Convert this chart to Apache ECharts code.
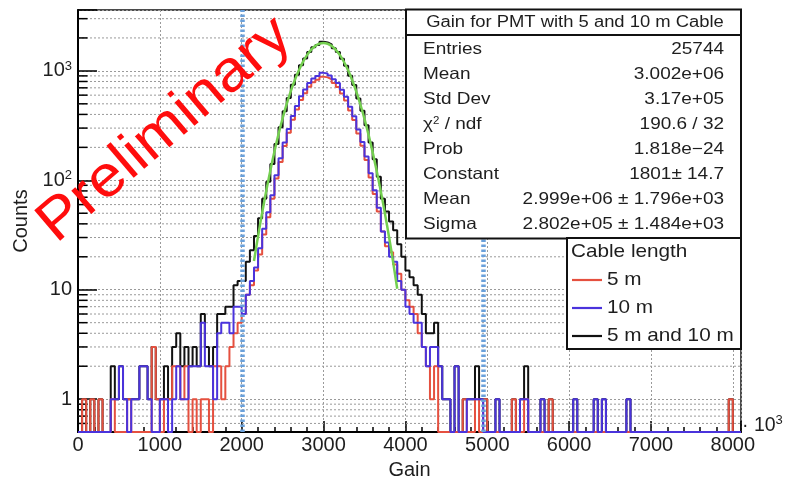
<!DOCTYPE html>
<html><head><meta charset="utf-8">
<script src="https://cdn.jsdelivr.net/npm/echarts@6/dist/echarts.min.js"></script>
<style>html,body{margin:0;padding:0;background:#fff}#c{width:790px;height:485px}</style>
</head><body><div id="c"></div>
<script>
// ---- data ----
const binStart = 0;
const binWidth = 50;          // Gain units (x10^3)
const xMin = 0, xMax = 8100, xInterval = 1000;
const yMin = 0.5, yMax = 3600;

// counts per bin, bins of 50 starting at 0
const counts5m = [
 0,1,0,1,0,1,0,0,1,0,
 0,0,1,0,0,0,0,0,3,1,
 0,1,1,2,2,1,2,0,1,0,
 1,1,0,2,2,1,2,3,4,5,
 6,9,11,15,21,32,46,68,104,147,
 206,272,358,443,541,624,716,789,830,886,
 872,838,775,714,622,535,434,356,268,207,
 153,106,75,52,34,25,22,17,14,10,
 8,7,6,4,3,2,1,2,0,0,
 0,0,0,0,1,0,0,1,0,1,
 0,0,0,0,0,0,1,0,0,1,
 0,0,0,0,0,1,0,0,0,0,
 0,0,0,0,0,0,0,0,0,0,
 0,0,0,0,0,0,0,0,0,0,
 0,0,0,0,0,0,0,0,0,0,
 0,0,0,0,0,0,0,0,0,1,
 0,0];
const counts10m = [
 0,0,0,0,0,0,0,0,1,1,
 2,1,0,1,1,2,2,1,0,0,
 1,1,0,1,2,1,1,2,2,2,
 5,2,2,1,4,5,5,4,7,7,
 6,9,12,16,24,36,51,73,111,159,
 222,294,387,478,585,674,774,852,898,959,
 946,907,837,774,671,580,469,385,291,224,
 165,116,81,56,34,27,20,18,12,10,
 7,6,5,5,3,2,3,3,2,1,
 1,0,2,0,0,1,1,1,1,0,
 0,0,1,0,0,0,0,0,1,1,
 0,0,0,1,0,0,0,0,0,0,
 0,1,0,0,0,0,1,0,1,0,
 0,0,0,0,1,0,0,0,0,0,
 0,0,0,0,0,0,0,0,0,0,
 0,0,0,0,0,0,0,0,0,0,
 0,0];
const countsBoth = [
 0,1,0,1,0,1,0,0,2,1,
 2,1,1,1,1,2,2,1,3,1,
 1,2,1,3,4,2,3,2,3,2,
 6,3,2,3,6,6,7,7,11,12,
 12,18,23,31,45,68,97,141,215,306,
 428,566,745,921,1126,1298,1490,1641,1728,1845,
 1818,1745,1612,1488,1293,1115,903,741,559,431,
 318,222,156,108,68,52,42,35,26,20,
 15,13,11,9,6,4,4,5,2,1,
 1,0,2,0,1,1,1,2,1,1,
 0,0,1,0,0,0,1,0,1,2,
 0,0,0,1,0,1,0,0,0,0,
 0,1,0,0,0,0,1,0,1,0,
 0,0,0,0,1,0,0,0,0,0,
 0,0,0,0,0,0,0,0,0,0,
 0,0,0,0,0,0,0,0,0,1,
 0,0];

// Gaussian fit curve
const fitX = [2150,2200,2250,2300,2350,2400,2450,2500,2550,2600,2650,2700,2750,2800,2850,2900,2950,3000,
              3050,3100,3150,3200,3250,3300,3350,3400,3450,3500,3550,3600,3650,3700,3750,3800,3850,3900];
const fitY = [18.3,30.9,50.6,80.2,123,183,264,369,499,653,829,1019,1214,1400,1563,1692,1774,1801,
              1771,1688,1557,1392,1206,1011,822,647,493,364,260,180,121,78.8,49.6,30.3,17.9,10.2];

const markerX = [2010, 4950];
const minorYValues = [0.6,0.7,0.8,0.9,2,3,4,5,6,7,8,9,20,30,40,50,60,70,80,90,
                      200,300,400,500,600,700,800,900,2000,3000];

const statsTitle = 'Gain for PMT with 5 and 10 m Cable';
const statsLabels = ['Entries','Mean','Std Dev','{c|χ}{s|2}{c| / ndf}','Prob','Constant','Mean','Sigma'];
const statsValues = ['25744','3.002e+06','3.17e+05','190.6 / 32','1.818e−24','1801± 14.7',
                     '2.999e+06 ± 1.796e+03','2.802e+05 ± 1.484e+03'];
const legendTitle = 'Cable length';
const legendNames = ['5 m','10 m','5 m and 10 m'];

// ---- styles ----
const FONT = '"Liberation Sans", Arial, Helvetica, sans-serif';
const TXT = '#1e1e1e';
const cRed = '#e5503f', cBlue = '#4a33dc', cBlack = '#111111', cGreen = '#74cf50';
const gridColor = '#9a9a9a';

function histPoints(counts) {
  const pts = counts.map((c, i) => [binStart + i * binWidth, c > 0 ? c : yMin]);
  const last = counts[counts.length - 1];
  pts.push([binStart + counts.length * binWidth, last > 0 ? last : yMin]);
  return pts;
}

const chart = echarts.init(document.getElementById('c'), null, {renderer: 'canvas'});

const graphics = [];
// stats box
const SX = 1.15;
graphics.push({type:'rect', z:100, shape:{x:406, y:9.5, width:335, height:229}, style:{fill:'#fff', stroke:'#111', lineWidth:2}});
graphics.push({type:'line', z:101, shape:{x1:406, y1:35, x2:741, y2:35}, style:{stroke:'#111', lineWidth:2}});
graphics.push({type:'text', z:102, x:575, y:23, scaleX:SX, style:{text:statsTitle, font:'16px ' + FONT, fill:TXT, textAlign:'center', textVerticalAlign:'middle'}});
statsLabels.forEach((t, i) => {
  const y = 49 + i * 25.1;
  graphics.push({type:'text', z:102, x:423, y:y, scaleX:SX, style:{text:t, font:'16.5px ' + FONT, fill:TXT, textAlign:'left', textVerticalAlign:'middle',
    rich:{c:{fontSize:16.5, fontFamily:FONT, fill:TXT}, s:{fontSize:10, fontFamily:FONT, fill:TXT, verticalAlign:'top', padding:[0,0,6,0]}}}});
  graphics.push({type:'text', z:102, x:724, y:y, scaleX:SX, style:{text:statsValues[i], font:'16.5px ' + FONT, fill:TXT, textAlign:'right', textVerticalAlign:'middle'}});
});
// legend box
graphics.push({type:'rect', z:100, shape:{x:567, y:238, width:174, height:111}, style:{fill:'#fff', stroke:'#111', lineWidth:2}});
graphics.push({type:'text', z:102, x:571, y:252, scaleX:1.12, style:{text:legendTitle, font:'18.5px ' + FONT, fill:TXT, textAlign:'left', textVerticalAlign:'middle'}});
[cRed, cBlue, cBlack].forEach((col, i) => {
  const y = 280 + i * 28;
  graphics.push({type:'line', z:102, shape:{x1:572, y1:y, x2:602, y2:y}, style:{stroke:col, lineWidth:2.2}});
  graphics.push({type:'text', z:102, x:607, y:y, scaleX:1.12, style:{text:legendNames[i], font:'18.5px ' + FONT, fill:TXT, textAlign:'left', textVerticalAlign:'middle'}});
});
// x10^3 multiplier
graphics.push({type:'text', z:102, x:742, y:437, style:{text:'· 10{s|3}', font:'19.5px ' + FONT, fill:TXT, textAlign:'left', textVerticalAlign:'bottom',
  rich:{s:{fontSize:13, fontFamily:FONT, fill:TXT, verticalAlign:'top', padding:[0,0,10,0]}}}});
// Preliminary watermark
graphics.push({type:'text', z:120, x:165, y:130, rotation:0.707, scaleX:1.08, style:{text:'Preliminary', font:'58px ' + FONT, fill:'#ff0d0d', textAlign:'center', textVerticalAlign:'middle'}});

const option = {
  animation: false,
  backgroundColor: '#fff',
  grid: {left:78, top:10, width:663, height:425, show:true, borderColor:'#111', borderWidth:1.5, backgroundColor:'transparent', containLabel:false},
  xAxis: {
    type:'value', min:xMin, max:xMax, interval:xInterval,
    axisLine:{show:true, onZero:false, lineStyle:{color:'#000', width:2}},
    axisTick:{show:true, inside:true, length:11, lineStyle:{color:'#000', width:1.5}},
    minorTick:{show:true, splitNumber:5, length:5, lineStyle:{color:'#000', width:1.5}},
    axisLabel:{fontFamily:FONT, fontSize:20, color:TXT, margin:3,
      formatter: v => (Math.abs(v % 1000) < 1e-6 ? String(v) : '')},
    splitLine:{show:true, lineStyle:{color:gridColor, type:[2,2], width:1}},
    name:'Gain', nameLocation:'middle', nameGap:22, nameTextStyle:{fontFamily:FONT, fontSize:20, color:TXT}
  },
  yAxis: {
    type:'log', logBase:10, min:yMin, max:yMax,
    axisLine:{show:true, lineStyle:{color:'#000', width:2}},
    axisTick:{show:true, inside:true, length:19, lineStyle:{color:'#000', width:1.5}},
    axisLabel:{fontFamily:FONT, fontSize:20, color:TXT, margin:6,
      formatter: v => {
        const e = Math.round(Math.log10(v));
        if (Math.abs(v - Math.pow(10, e)) > 1e-6 * v) return '';
        if (e === 0) return '1';
        if (e === 1) return '10';
        return '10{s|' + e + '}';
      },
      rich:{s:{fontSize:13, fontFamily:FONT, color:TXT, verticalAlign:'top', padding:[0,0,9,0]}}
    },
    splitLine:{show:true, lineStyle:{color:gridColor, type:[2,2], width:1}},
    name:'Counts', nameLocation:'middle', nameGap:46, nameRotate:90,
    nameTextStyle:{fontFamily:FONT, fontSize:20, color:TXT}
  },
  series: [
    {
      type:'custom', silent:true, z:1, clip:true,
      data: minorYValues.map(v => [xMin, v]),
      renderItem: (params, api) => {
        const p = api.coord([xMin, api.value(1)]);
        const cs = params.coordSys;
        return {type:'group', children:[
          {type:'line', shape:{x1:cs.x, y1:p[1], x2:cs.x + cs.width, y2:p[1]}, style:{stroke:gridColor, lineWidth:1, lineDash:[2,2]}},
          {type:'line', shape:{x1:cs.x, y1:p[1], x2:cs.x + 9.5, y2:p[1]}, style:{stroke:'#000', lineWidth:1.5}}
        ]};
      }
    },
    {name:'5 m and 10 m', type:'line', step:'end', data:histPoints(countsBoth), showSymbol:false, clip:true, z:2,
     lineStyle:{color:cBlack, width:2}, itemStyle:{color:cBlack}},
    {name:'5 m', type:'line', step:'end', data:histPoints(counts5m), showSymbol:false, clip:true, z:3,
     lineStyle:{color:cRed, width:2}, itemStyle:{color:cRed}},
    {name:'10 m', type:'line', step:'end', data:histPoints(counts10m), showSymbol:false, clip:true, z:4,
     lineStyle:{color:cBlue, width:2}, itemStyle:{color:cBlue},
     markLine:{silent:true, symbol:['none','none'], label:{show:false}, z:6,
       lineStyle:{color:'#6aa0da', width:4.5, type:[2.5,2.5]},
       data: markerX.map(x => ({xAxis:x}))}},
    {name:'fit', type:'line', data:fitX.map((x, i) => [x, fitY[i]]), showSymbol:false, smooth:0.4, clip:true, z:5,
     lineStyle:{color:cGreen, width:2.5}, itemStyle:{color:cGreen}}
  ],
  graphic: graphics
};
chart.setOption(option);
</script>
</body></html>
